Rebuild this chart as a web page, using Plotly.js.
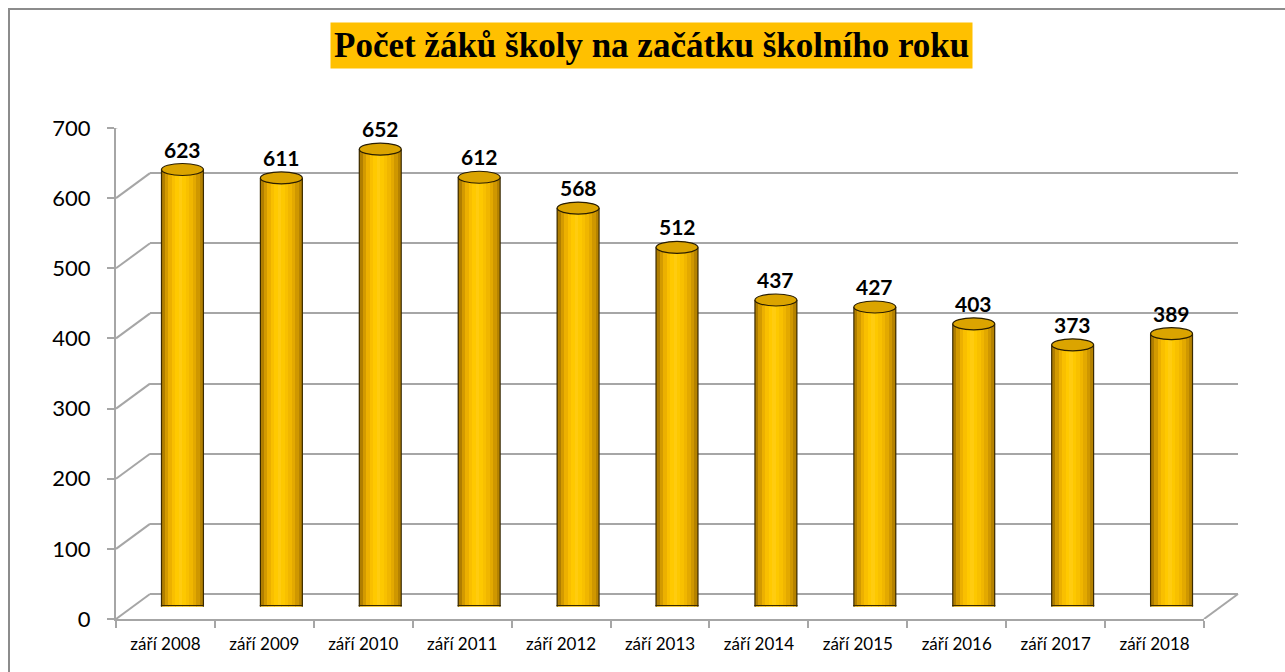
<!DOCTYPE html>
<html><head><meta charset="utf-8">
<script src="https://cdn.plot.ly/plotly-3.0.1.min.js"></script>
<style>html,body{margin:0;padding:0;background:#fff}#c{width:1285px;height:672px}</style>
</head><body><div id="c"></div>
<script>
const categories = ["září 2008","září 2009","září 2010","září 2011","září 2012","září 2013","září 2014","září 2015","září 2016","září 2017","září 2018"];
const pupils = [623, 611, 652, 612, 568, 512, 437, 427, 403, 373, 389];
const yTicks = [0, 100, 200, 300, 400, 500, 600, 700];
const titleText = "Počet žáků školy na začátku školního roku";

const W = 1285, H = 672;
const px = v => v / W;           // pixel -> paper x
const py = v => 1 - v / H;       // pixel -> paper y
const DX = 34, DY = 25;          // depth offset of back wall
const frontX = [116, 1204], frontY = [619, 128];

const barHalf = 0.212;
const stripColors = ["#b07e00","#d39a00","#ecb000","#f9bf00","#ffc900","#ffcc10","#fdc800","#f8c000","#f0b600","#e3a900","#cf9700","#b58200"];
const n = stripColors.length;
const idx = categories.map((_, i) => i);

const traces = stripColors.map((c, k) => ({
  type: "bar", x: idx, y: pupils, xaxis: "x3", yaxis: "y3",
  width: 2 * barHalf / n + 0.002, offset: -barHalf + k * 2 * barHalf / n,
  marker: {color: c, line: {width: 0}}, hoverinfo: "skip", showlegend: false
}));
// invisible front trace to host front axes
traces.unshift({type: "bar", x: categories, y: pupils.map(() => 0), xaxis: "x", yaxis: "y",
  marker: {color: "rgba(0,0,0,0)"}, hoverinfo: "skip", showlegend: false});
traces.splice(1, 0, {type: "scatter", x: [0, 1], y: [0, 0], xaxis: "x2", yaxis: "y2",
  mode: "none", hoverinfo: "skip", showlegend: false});

const shapes = [];
// outer border
shapes.push({type: "rect", xref: "paper", yref: "paper", x0: px(9), y0: py(9), x1: 1.02, y1: -0.02,
  line: {color: "#8c8c8c", width: 2}, layer: "below"});
// left wall diagonals
yTicks.forEach(t => shapes.push({type: "line", xref: "paper", yref: "y", xsizemode: "pixel", ysizemode: "pixel",
  xanchor: px(frontX[0]), yanchor: t, x0: 0, x1: DX, y0: 0, y1: DY, line: {color: "#a6a6a6", width: 2}, layer: "below"}));
// floor right diagonal
shapes.push({type: "line", xref: "paper", yref: "y", xsizemode: "pixel", ysizemode: "pixel",
  xanchor: px(frontX[1]), yanchor: 0, x0: 0, x1: DX, y0: 0, y1: DY, line: {color: "#a6a6a6", width: 2}, layer: "below"});

pupils.forEach((v, i) => {
  const a = i - barHalf, b = i + barHalf;
  // rounded bottom (lower half of base ellipse)
  shapes.push({type: "path", xref: "x3", yref: "y3", ysizemode: "pixel", yanchor: 0,
    path: `M${a},1 L${a},0 C${a},-8 ${b},-8 ${b},0 L${b},1 Z`,
    fillcolor: "#eab200", line: {color: "#3a2a00", width: 1.2}, layer: "above"});
  // side edges
  [a, b].forEach(o => shapes.push({type: "line", xref: "x3", yref: "y3",
    x0: o, x1: o, y0: 0, y1: v, line: {color: "#3a2a00", width: 1.2}, layer: "above"}));
  // top ellipse
  shapes.push({type: "circle", xref: "x3", yref: "y3", ysizemode: "pixel", yanchor: v,
    x0: a, x1: b, y0: -6, y1: 6, fillcolor: "#dba400", line: {color: "#2a1e00", width: 1.2}, layer: "above"});
});

const annotations = pupils.map((v, i) => ({
  xref: "x3", yref: "y3", x: i, y: v, yanchor: "bottom", yshift: 6, showarrow: false,
  text: String(v), font: {family: "Lato, 'Liberation Sans', sans-serif", size: 21, color: "#000", weight: 700}
}));
annotations.push({xref: "paper", yref: "paper", x: px(651.5), y: py(45.5), xanchor: "center", yanchor: "middle",
  showarrow: false, text: "<b>" + titleText + "</b>", bgcolor: "#FFC000", borderpad: 3,
  font: {family: "'Liberation Serif', 'DejaVu Serif', serif", size: 35, color: "#000"}});

const gray = "#a6a6a6";
const layout = {
  width: W, height: H, margin: {l: 0, r: 0, t: 0, b: 0},
  paper_bgcolor: "#fff", plot_bgcolor: "rgba(0,0,0,0)",
  barmode: "overlay", bargap: 0, showlegend: false,
  font: {family: "Lato, 'Liberation Sans', sans-serif", color: "#000"},
  xaxis: {domain: [px(frontX[0]), px(frontX[1])], anchor: "y", type: "category",
    tickson: "boundaries", ticks: "outside", ticklen: 7, tickwidth: 2, tickcolor: gray,
    showline: true, linecolor: gray, linewidth: 2, showgrid: false, zeroline: false,
    tickfont: {size: 17, color: "#000"}, ticklabelstandoff: 9, fixedrange: true},
  yaxis: {domain: [py(frontY[0]), py(frontY[1])], anchor: "x", range: [0, 700],
    tickvals: yTicks, ticks: "outside", ticklen: 7, tickwidth: 2, tickcolor: gray,
    showline: true, linecolor: gray, linewidth: 2, showgrid: false, zeroline: false,
    tickfont: {size: 22, color: "#000"}, ticklabelstandoff: 12, fixedrange: true},
  xaxis2: {domain: [px(frontX[0] + DX), px(frontX[1] + DX)], anchor: "y2", range: [0, 1], visible: false, fixedrange: true},
  yaxis2: {domain: [py(frontY[0] - DY), py(frontY[1] - DY)], anchor: "x2", range: [0, 700], tickvals: yTicks,
    showticklabels: false, ticks: "", showgrid: true, gridcolor: gray, gridwidth: 2,
    zeroline: true, zerolinecolor: gray, zerolinewidth: 2, showline: false, fixedrange: true},
  xaxis3: {domain: [px(frontX[0] + DX / 2), px(frontX[1] + DX / 2)], anchor: "y3", range: [-0.5, 10.5], visible: false, fixedrange: true},
  yaxis3: {domain: [py(frontY[0] - DY / 2), py(frontY[1] - DY / 2)], anchor: "x3", range: [0, 700], visible: false, fixedrange: true},
  shapes: shapes, annotations: annotations
};
Plotly.newPlot("c", traces, layout, {staticPlot: true});
</script></body></html>
